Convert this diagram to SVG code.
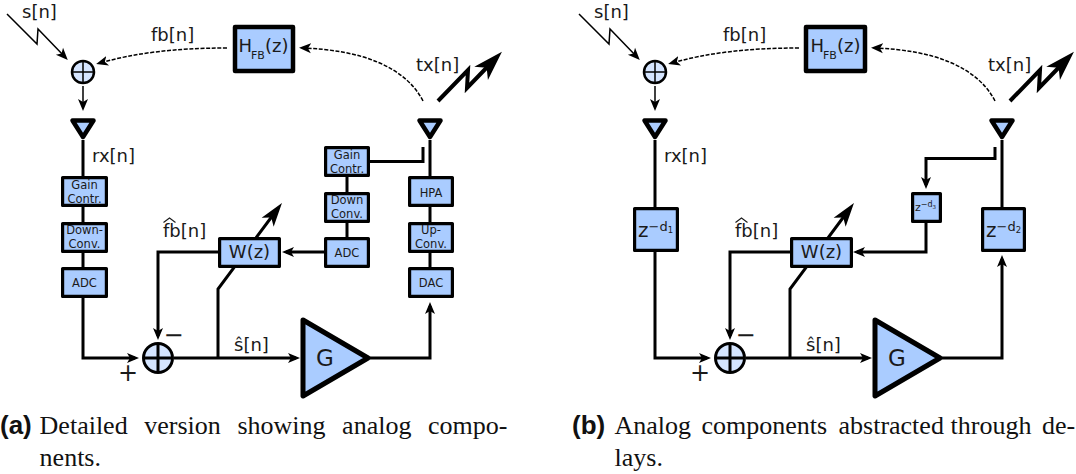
<svg xmlns="http://www.w3.org/2000/svg" width="1076" height="474" viewBox="0 0 1076 474">
<style>
text{font-family:"DejaVu Sans",sans-serif;fill:#1a1a1a}
.l{font-size:18px}
.s{font-size:11.5px;text-anchor:middle}
.b{fill:#aaccff;stroke:#000;stroke-width:3.2;stroke-linejoin:round}
.bh{fill:#aaccff;stroke:#000;stroke-width:4.5;stroke-linejoin:round}
.t{fill:#aaccff;stroke:#000;stroke-width:4.5;stroke-linejoin:round}
.g{fill:#aaccff;stroke:#000;stroke-width:5;stroke-linejoin:round}
.c{fill:#d5e5ff;stroke:#000}
.w{fill:none;stroke:#000;stroke-width:3}
.th{fill:none;stroke:#000;stroke-width:1.5}
.d{fill:none;stroke:#000;stroke-width:1.5;stroke-dasharray:4 1.6}
.z{fill:none;stroke:#000;stroke-width:4}
.hat{fill:none;stroke:#1a1a1a;stroke-width:1.1}
.cap{font-family:"Liberation Serif",serif;font-size:26px;fill:#111}
.capb{font-family:"Liberation Sans",sans-serif;font-weight:bold;font-size:26px;fill:#111}
</style>
<defs>
<marker id="a" markerUnits="userSpaceOnUse" markerWidth="14" markerHeight="14" viewBox="0 -7 14 14" refX="8" refY="0" orient="auto"><path d="M12,0L0,-5L3,0L0,5Z" fill="#000"/></marker>
<marker id="big" markerUnits="userSpaceOnUse" markerWidth="32" markerHeight="22" viewBox="0 -11 32 22" refX="20" refY="0" orient="auto"><path d="M30,0L0,-9.5L8,0L0,9.5Z" fill="#000"/></marker>
<marker id="mid" markerUnits="userSpaceOnUse" markerWidth="26" markerHeight="18" viewBox="0 -9 26 18" refX="14" refY="0" orient="auto"><path d="M24,0L0,-7.5L6,0L0,7.5Z" fill="#000"/></marker>
</defs>

<g id="connectors-a">
<path class="th" d="M7,14L37,44L38,29L65,57" marker-end="url(#a)"/>
<path class="th" d="M83,86V107" marker-end="url(#a)"/>
<path class="d" d="M227,48C175,48 135,53 100,63" marker-end="url(#a)"/>
<path class="d" d="M423,101C405,66 360,50 303,48" marker-end="url(#a)"/>
<path class="z" d="M438,101L468,70L467,88L495,59" marker-end="url(#big)" stroke-linejoin="miter"/>
<path class="w" d="M83,140V176M83,207V222M83,253V267"/>
<path class="w" d="M83,298V358H135" marker-end="url(#a)"/>
<path class="w" d="M218,252H158V336" marker-end="url(#a)"/>
<path class="w" d="M174,358H296" marker-end="url(#a)"/>
<path class="w" d="M218,358V289L276,211" marker-end="url(#mid)"/>
<path class="w" d="M370,161.500H423V147M347,177V192M347,222V237"/>
<path class="w" d="M324,252H286" marker-end="url(#a)"/>
<path class="w" d="M370,358H430V306" marker-end="url(#a)"/>
<path class="w" d="M430,140V176M430,207V222M430,253V267"/>
</g>
<g id="sum1-a"><circle class="c" cx="83" cy="72" r="11" stroke-width="2.5"/><path class="th" d="M72,72H94M83,61V83"/></g>
<g id="ant-rx-a"><path class="t" d="M72.500,120.500H93.500L83,137Z"/></g>
<g id="ant-tx-a"><path class="t" d="M419.500,120.500H440.500L430,137Z"/></g>
<g id="hfb-a"><rect class="bh" x="235" y="27" width="58" height="44"/><text class="l" x="238.500" y="52">H<tspan font-size="11" dy="7" dx="-1">FB</tspan><tspan dy="-7">(z)</tspan></text></g>
<g id="gain-a"><rect class="b" x="62.600" y="177.600" width="43.800" height="27.800"/><text class="s" x="84.500" y="189">Gain</text><text class="s" x="84.500" y="203">Contr.</text></g>
<g id="down-a"><rect class="b" x="62.600" y="223.600" width="43.800" height="27.800"/><text class="s" x="84.500" y="234">Down-</text><text class="s" x="84.500" y="248">Conv.</text></g>
<g id="adc-a"><rect class="b" x="62.600" y="268.600" width="43.800" height="27.800"/><text class="s" x="84.500" y="287">ADC</text></g>
<g id="w-a"><rect class="b" x="219.600" y="238.600" width="59.800" height="27.800"/><text class="l" x="249.500" y="258" text-anchor="middle">W(z)</text></g>
<g id="gain2-a"><rect class="b" x="325.600" y="147.600" width="42.800" height="27.800"/><text class="s" x="347" y="159">Gain</text><text class="s" x="347" y="173">Contr.</text></g>
<g id="down2-a"><rect class="b" x="325.600" y="193.600" width="42.800" height="27.800"/><text class="s" x="347" y="204">Down</text><text class="s" x="347" y="218">Conv.</text></g>
<g id="adc2-a"><rect class="b" x="325.600" y="238.600" width="42.800" height="27.800"/><text class="s" x="347" y="257">ADC</text></g>
<g id="hpa-a"><rect class="b" x="409.600" y="177.600" width="42.800" height="27.800"/><text class="s" x="431" y="197">HPA</text></g>
<g id="up-a"><rect class="b" x="409.600" y="223.600" width="42.800" height="27.800"/><text class="s" x="431" y="234">Up-</text><text class="s" x="431" y="248">Conv.</text></g>
<g id="dac-a"><rect class="b" x="409.600" y="268.600" width="42.800" height="27.800"/><text class="s" x="431" y="287">DAC</text></g>
<g id="sum2-a"><circle class="c" cx="158" cy="358" r="14.500" stroke-width="3"/><path class="w" d="M143.500,358H172.500M158,343.500V372.500"/></g>
<g id="gamp-a"><path class="g" d="M303,320L368,358L303,396Z"/><text x="325" y="366" font-size="23" text-anchor="middle">G</text></g>
<g id="labels-a">
<text class="l" x="22" y="18">s[n]</text>
<text class="l" x="151" y="41">fb[n]</text>
<text class="l" x="416" y="71">tx[n]</text>
<text class="l" x="92" y="162">rx[n]</text>
<text class="l" x="163" y="237">fb[n]</text>
<path class="hat" d="M163.500,222.500L169.500,218L175.500,222.500"/>
<text class="l" x="234" y="351">ŝ[n]</text>
<text x="128" y="380.500" font-size="24" text-anchor="middle">+</text>
<text x="173.500" y="342.500" font-size="24" text-anchor="middle">−</text>
</g>

<g id="connectors-b">
<path class="th" d="M579,14L609,44L610,29L637,57" marker-end="url(#a)"/>
<path class="th" d="M655,86V107" marker-end="url(#a)"/>
<path class="d" d="M799,48C747,48 707,53 672,63" marker-end="url(#a)"/>
<path class="d" d="M995,101C977,66 932,50 875,48" marker-end="url(#a)"/>
<path class="z" d="M1010,101L1040,70L1039,88L1067,59" marker-end="url(#big)" stroke-linejoin="miter"/>
<path class="w" d="M655,140V207"/>
<path class="w" d="M655,252V358H707" marker-end="url(#a)"/>
<path class="w" d="M790,252H730V336" marker-end="url(#a)"/>
<path class="w" d="M746,358H868" marker-end="url(#a)"/>
<path class="w" d="M790,358V289L848,211" marker-end="url(#mid)"/>
<path class="w" d="M995,147V158.500H926V185" marker-end="url(#a)"/>
<path class="w" d="M926,222V252H857" marker-end="url(#a)"/>
<path class="w" d="M942,358H1002V259" marker-end="url(#a)"/>
<path class="w" d="M1002,140V207"/>
</g>
<g id="sum1-b"><circle class="c" cx="655" cy="72" r="11" stroke-width="2.5"/><path class="th" d="M644,72H666M655,61V83"/></g>
<g id="ant-rx-b"><path class="t" d="M644.500,120.500H665.500L655,137Z"/></g>
<g id="ant-tx-b"><path class="t" d="M991.500,120.500H1012.500L1002,137Z"/></g>
<g id="hfb-b"><rect class="bh" x="806" y="27" width="59" height="44"/><text class="l" x="810.500" y="52">H<tspan font-size="11" dy="7" dx="-1">FB</tspan><tspan dy="-7">(z)</tspan></text></g>
<g id="d1-b"><rect class="b" x="634.600" y="208.600" width="42.800" height="41.800"/><text x="638" y="237" font-size="20">z<tspan font-size="13" dy="-6">−d</tspan><tspan font-size="8.500" dy="2">1</tspan></text></g>
<g id="d2-b"><rect class="b" x="982.600" y="208.600" width="41.800" height="41.800"/><text x="986" y="237" font-size="20">z<tspan font-size="13" dy="-6">−d</tspan><tspan font-size="8.500" dy="2">2</tspan></text></g>
<g id="d3-b"><rect class="b" x="912.600" y="193.600" width="27.800" height="27.800"/><text x="915" y="211" font-size="11">z<tspan font-size="8" dy="-4">−d</tspan><tspan font-size="5.500" dy="1.500">3</tspan></text></g>
<g id="w-b"><rect class="b" x="791.600" y="238.600" width="59.800" height="27.800"/><text class="l" x="821.500" y="258" text-anchor="middle">W(z)</text></g>
<g id="sum2-b"><circle class="c" cx="730" cy="358" r="14.500" stroke-width="3"/><path class="w" d="M715.500,358H744.500M730,343.500V372.500"/></g>
<g id="gamp-b"><path class="g" d="M875,320L940,358L875,396Z"/><text x="897" y="366" font-size="23" text-anchor="middle">G</text></g>
<g id="labels-b">
<text class="l" x="594" y="18">s[n]</text>
<text class="l" x="723" y="41">fb[n]</text>
<text class="l" x="988" y="71">tx[n]</text>
<text class="l" x="664" y="162">rx[n]</text>
<text class="l" x="735" y="237">fb[n]</text>
<path class="hat" d="M735.500,222.500L741.500,218L747.500,222.500"/>
<text class="l" x="806" y="351">ŝ[n]</text>
<text x="700" y="380.500" font-size="24" text-anchor="middle">+</text>
<text x="745.500" y="342.500" font-size="24" text-anchor="middle">−</text>
</g>

<g id="captions">
<text class="capb" x="0" y="434">(a)</text>
<text class="cap" y="434"><tspan x="39.600">Detailed</tspan><tspan x="144.300">version</tspan><tspan x="237.400">showing</tspan><tspan x="342.100">analog</tspan><tspan x="428">compo-</tspan></text>
<text class="cap" x="39.600" y="466">nents.</text>
<text class="capb" x="572" y="434">(b)</text>
<text class="cap" y="434"><tspan x="614.500">Analog</tspan><tspan x="701.500">components</tspan><tspan x="838.500">abstracted</tspan><tspan x="950.500">through</tspan><tspan x="1042">de-</tspan></text>
<text class="cap" x="614.500" y="466">lays.</text>
</g>
</svg>
